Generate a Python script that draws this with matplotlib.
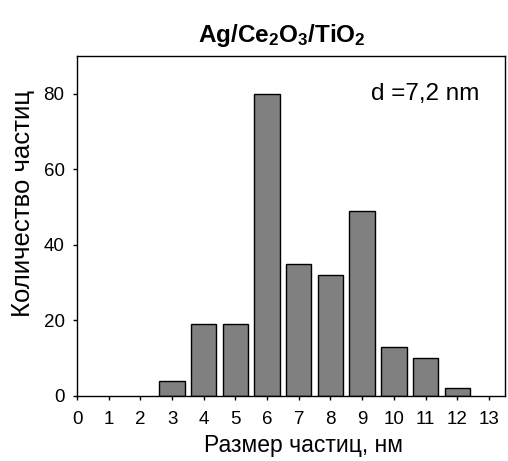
import matplotlib
matplotlib.use("Agg")
import matplotlib.pyplot as plt

plt.rcParams['font.family'] = ['Liberation Sans', 'DejaVu Sans']
plt.rcParams['mathtext.fontset'] = 'custom'
plt.rcParams['mathtext.rm'] = 'Liberation Sans'
plt.rcParams['mathtext.bf'] = 'Liberation Sans:bold'

sizes = [3, 4, 5, 6, 7, 8, 9, 10, 11, 12]
counts = [4, 19, 19, 80, 35, 32, 49, 13, 10, 2]
xticks = list(range(0, 14))
yticks = [0, 20, 40, 60, 80]

fig = plt.figure(figsize=(5.08, 4.61), dpi=100)
ax = fig.add_axes([0.1516, 0.141, 0.842, 0.7375])
ax.bar(sizes, counts, width=0.8, color='#808080', edgecolor='black', linewidth=1.0)
ax.set_xlim(0, 13.5)
ax.set_ylim(0, 90)
ax.set_xticks(xticks)
ax.set_yticks(yticks)
ax.tick_params(axis='both', direction='out', length=3, labelsize=13.5, width=1)
ax.tick_params(axis='x', pad=8)
ax.tick_params(axis='y', pad=6)
ax.set_xlabel('Размер частиц, нм', fontsize=16.5, labelpad=4)
ax.xaxis.label.set_x(0.53)
ax.set_ylabel('Количество частиц', fontsize=18.5, labelpad=6)
ax.yaxis.label.set_y(0.565)
ax.set_title(r'$\mathbf{Ag/Ce_2O_3/TiO_2}$', fontsize=17.5, pad=10, x=0.479)
ax.text(11.0, 80, 'd =7,2 nm', fontsize=17.5, ha='center', va='center')
for s in ax.spines.values():
    s.set_linewidth(1.0)
fig.savefig('out.png', dpi=100)
